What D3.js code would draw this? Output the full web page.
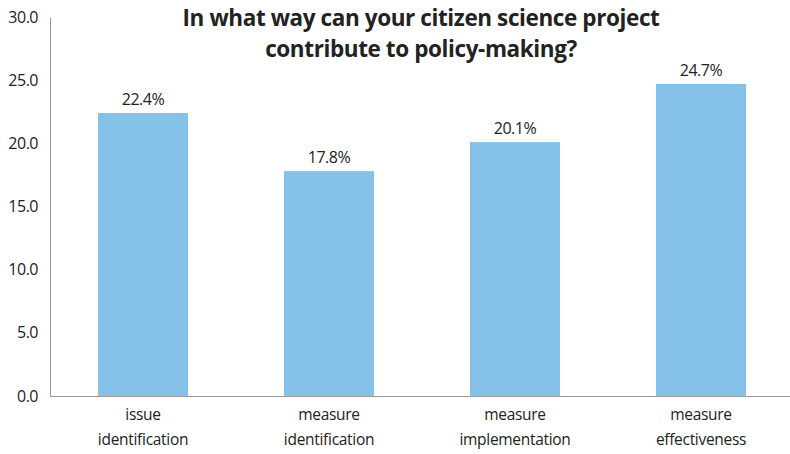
<!DOCTYPE html>
<html><head><meta charset="utf-8">
<script src="https://cdn.jsdelivr.net/npm/d3@7"></script>
<style>body{margin:0;background:#fff;} text{font-family:"Open Sans","Noto Sans",sans-serif;}</style>
</head><body><svg id="c" width="790" height="454"></svg>
<script>
const categories = [["issue","identification"],["measure","identification"],["measure","implementation"],["measure","effectiveness"]];
const values = [22.4, 17.8, 20.1, 24.7];
const yTicks = [0, 5, 10, 15, 20, 25, 30];
const titleLines = ["In what way can your citizen science project","contribute to policy-making?"];

const svg = d3.select("#c");
const x = d3.scaleBand().domain(d3.range(values.length)).range([50, 794]).paddingInner(0.516).paddingOuter(0.258);
const y = d3.scaleLinear().domain([0, 30]).range([396, 17]);

// y axis
const ya = svg.append("g").attr("transform","translate(50,0)")
  .call(d3.axisLeft(y).tickValues(yTicks).tickSize(0).tickPadding(12).tickFormat(d3.format(".1f")));
ya.select(".domain").attr("stroke","#9a9a9a").attr("stroke-width",1);
ya.selectAll("text").attr("font-size",16).attr("fill","#222").style("font-family","'Open Sans',sans-serif").attr("letter-spacing","-0.5");

// bars
svg.selectAll("rect.bar").data(values).join("rect").attr("class","bar")
  .attr("x",(d,i)=>x(i)).attr("width",x.bandwidth())
  .attr("y",d=>y(d)).attr("height",d=>y(0)-y(d)).attr("fill","#85c1e9");

// baseline
svg.append("line").attr("x1",50).attr("x2",790).attr("y1",y(0)+0.5).attr("y2",y(0)+0.5).attr("stroke","#9a9a9a");

// value labels
svg.selectAll("text.val").data(values).join("text").attr("class","val")
  .attr("x",(d,i)=>x(i)+x.bandwidth()/2).attr("y",d=>y(d)-8)
  .attr("text-anchor","middle").attr("font-size",16).attr("fill","#222").attr("letter-spacing","-0.5")
  .text(d=>d.toFixed(1)+"%");

// category labels
categories.forEach((lines,i)=>{
  lines.forEach((t,j)=>{
    svg.append("text").attr("x",x(i)+x.bandwidth()/2).attr("y",420+j*25)
      .attr("text-anchor","middle").attr("font-size",15.5).attr("fill","#222").attr("letter-spacing","-0.3").text(t);
  });
});

// title
titleLines.forEach((t,j)=>{
  svg.append("text").attr("x",421).attr("y",26+j*31).attr("text-anchor","middle")
    .attr("font-size",22.5).attr("font-weight","bold").attr("fill","#222").attr("letter-spacing","-0.4").text(t);
});
</script></body></html>
